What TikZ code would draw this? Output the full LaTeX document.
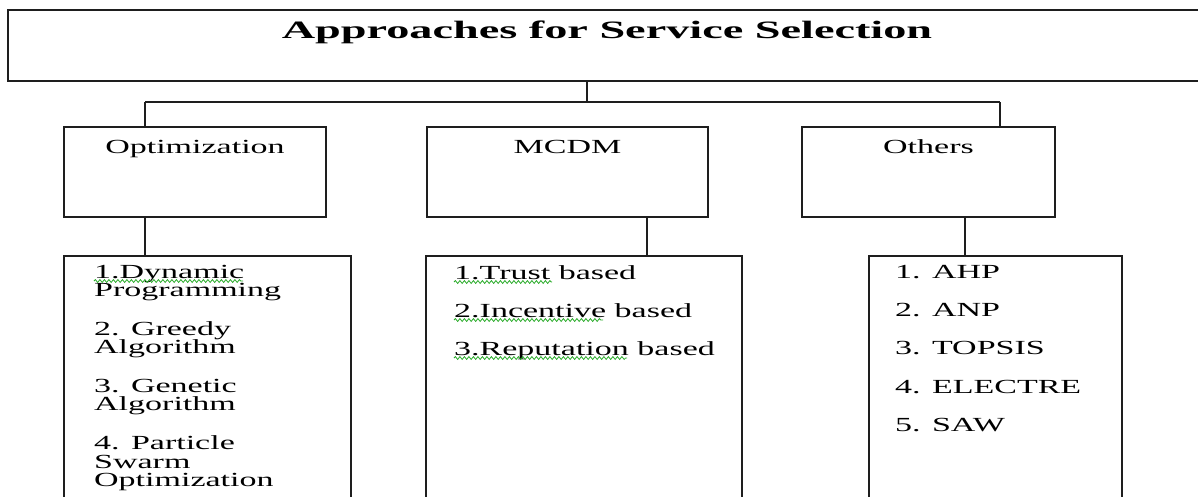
\documentclass[tikz,border=0pt]{standalone}
\usepackage{fontspec}
\setmainfont{Liberation Serif}
\newfontfamily\wideserif[FakeStretch=1.7]{Liberation Serif}
\newfontfamily\widetitle[FakeStretch=1.85]{Liberation Serif}
\usetikzlibrary{decorations.pathmorphing}
\definecolor{boxline}{RGB}{30,30,30}
\definecolor{spell}{RGB}{40,170,40}
\begin{document}
\begin{tikzpicture}[x=1pt,y=-1pt,
  box/.style={draw=boxline,line width=1.5pt,inner sep=0pt,minimum width=#1},
  conn/.style={draw=boxline,line width=1.5pt},
  head/.style={anchor=base,inner sep=0pt,font=\wideserif\fontsize{20}{20}\selectfont},
  item/.style={anchor=base west,inner sep=0pt,font=\wideserif\fontsize{20}{20}\selectfont},
  squiggle/.style={draw=spell,line width=0.8pt,decorate,decoration={snake,amplitude=1.4pt,segment length=4.5pt}}]
\useasboundingbox (0,0) rectangle (1198,496);
\clip (0,0) rectangle (1198,496);
% boxes
\node[box=1198,minimum height=71] (title) at (607,45.5) {};
\node[anchor=base,inner sep=0pt,font=\widetitle\bfseries\fontsize{25}{25}\selectfont] (titletext) at (607,38) {Approaches for Service Selection};
\node[box=262,minimum height=90] (opt) at (195,172) {};
\node[box=281,minimum height=90] (mcdm) at (567.5,172) {};
\node[box=253,minimum height=90] (oth) at (928.5,172) {};
\node[head] (optt) at (195,153) {Optimization};
\node[head] (mcdmt) at (567.5,153) {MCDM};
\node[head] (otht) at (928.5,153) {Others};
\node[box=287,minimum height=274] (list1) at (207.5,393) {};
\node[box=316,minimum height=274] (list2) at (584,393) {};
\node[box=253,minimum height=274] (list3) at (995.5,393) {};
% connectors
\coordinate (j) at (587,102);
\coordinate (jl) at (145,102);
\coordinate (jr) at (1000,102);
\coordinate (c1) at (145,0);
\coordinate (c2) at (647,0);
\coordinate (c3) at (965,0);
\draw[conn] (title.south -| j) -- (j);
\draw[conn] (jl) -- (jr);
\draw[conn] (jl) -- (jl |- opt.north);
\draw[conn] (jr) -- (jr |- oth.north);
\draw[conn] (opt.south -| c1) -- (list1.north -| c1);
\draw[conn] (mcdm.south -| c2) -- (list2.north -| c2);
\draw[conn] (oth.south -| c3) -- (list3.north -| c3);
% list 1
\node[item] (a1) at (94,278) {1.Dynamic};
\node[item] (a2) at (94,296) {Programming};
\node[item] (a3) at (94,335) {2. Greedy};
\node[item] (a4) at (94,353) {Algorithm};
\node[item] (a5) at (94,392) {3. Genetic};
\node[item] (a6) at (94,410) {Algorithm};
\node[item] (a7) at (94,449) {4. Particle};
\node[item] (a8) at (94,468) {Swarm};
\node[item] (a9) at (94,486) {Optimization};
% list 2
\node[item] (b1) at (454,279) {1.Trust based};
\node[item] (b2) at (454,317) {2.Incentive based};
\node[item] (b3) at (454,355) {3.Reputation based};
% list 3
\node[item] (c1t) at (895,278) {1. AHP};
\node[item] (c2t) at (895,316) {2. ANP};
\node[item] (c3t) at (895,354) {3. TOPSIS};
\node[item] (c4t) at (895,393) {4. ELECTRE};
\node[item] (c5t) at (895,431) {5. SAW};
% spelling marks
\coordinate (s1a) at (94,281); \coordinate (s1b) at (243,281);
\coordinate (s2a) at (454,282); \coordinate (s2b) at (552,282);
\coordinate (s3a) at (454,320); \coordinate (s3b) at (603,320);
\coordinate (s4a) at (454,358); \coordinate (s4b) at (627,358);
\draw[squiggle] (s1a) -- (s1b);
\draw[squiggle] (s2a) -- (s2b);
\draw[squiggle] (s3a) -- (s3b);
\draw[squiggle] (s4a) -- (s4b);
\end{tikzpicture}
\end{document}
